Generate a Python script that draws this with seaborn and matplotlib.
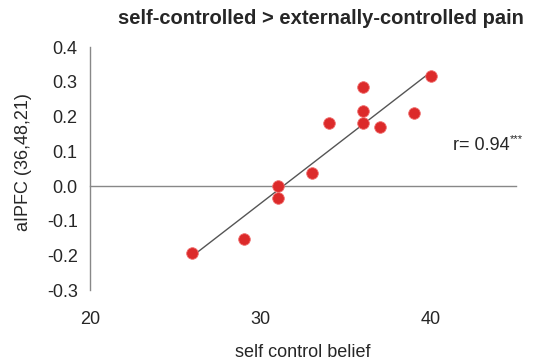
import numpy as np
import pandas as pd
import seaborn as sns
import matplotlib.pyplot as plt

# Values
self_control_belief = [26, 29, 31, 31, 33, 34, 36, 36, 36, 37, 39, 40]
alpfc = [-0.193, -0.153, 0.0, -0.034, 0.037, 0.181, 0.182, 0.215, 0.284, 0.170, 0.209, 0.318]
y_ticks = [-0.3, -0.2, -0.1, 0.0, 0.1, 0.2, 0.3, 0.4]
x_ticks = [20, 30, 40]

df = pd.DataFrame({'belief': self_control_belief, 'alpfc': alpfc})

sns.set_style('white')
plt.rcParams['font.family'] = ['Liberation Sans', 'DejaVu Sans']

fig = plt.figure(figsize=(5.37, 3.6), dpi=100)
ax = fig.add_axes([0.168, 0.194, 0.793, 0.675])

sns.regplot(data=df, x='belief', y='alpfc', ci=None, ax=ax,
            scatter_kws={'s': 70, 'color': '#dc2a2a', 'edgecolor': '#f07070',
                         'linewidths': 0.6, 'alpha': 1, 'zorder': 3},
            line_kws={'color': '#555555', 'lw': 1.0, 'zorder': 2})

ax.set_xlim(20, 45)
ax.set_ylim(-0.3, 0.4)

# left axis in grey, x axis drawn at zero
for side in ['top', 'right']:
    ax.spines[side].set_visible(False)
ax.spines['left'].set_color('#888888')
ax.spines['left'].set_linewidth(1.0)
ax.spines['bottom'].set_position(('data', 0))
ax.spines['bottom'].set_color('#888888')
ax.spines['bottom'].set_linewidth(1.0)

ax.set_yticks(y_ticks)
ax.set_yticklabels([f'{v:.1f}' for v in y_ticks], fontsize=13)
ax.set_xticks(x_ticks)
ax.set_xticklabels([str(v) for v in x_ticks], fontsize=13)
ax.tick_params(axis='y', direction='out', length=3, color='#888888', pad=6)
ax.tick_params(axis='x', direction='out', length=3, color='#888888', pad=87)

ax.set_xlabel('')
ax.set_ylabel('')
fig.text(0.564, 0.022, 'self control belief', fontsize=13, ha='center', va='center')
fig.text(0.043, 0.551, 'aIPFC (36,48,21)', fontsize=13, rotation=90,
         ha='center', va='center')

fig.text(0.598, 0.95, 'self-controlled > externally-controlled pain',
         ha='center', va='center', fontsize=14.5, fontweight='bold')

r_txt = ax.text(41.3, 0.118, 'r= 0.94', fontsize=13, va='center', ha='left')
ax.annotate('***', xy=(1, 0.55), xycoords=r_txt, fontsize=8,
            va='bottom', ha='left')

plt.savefig('out.png', dpi=100)
